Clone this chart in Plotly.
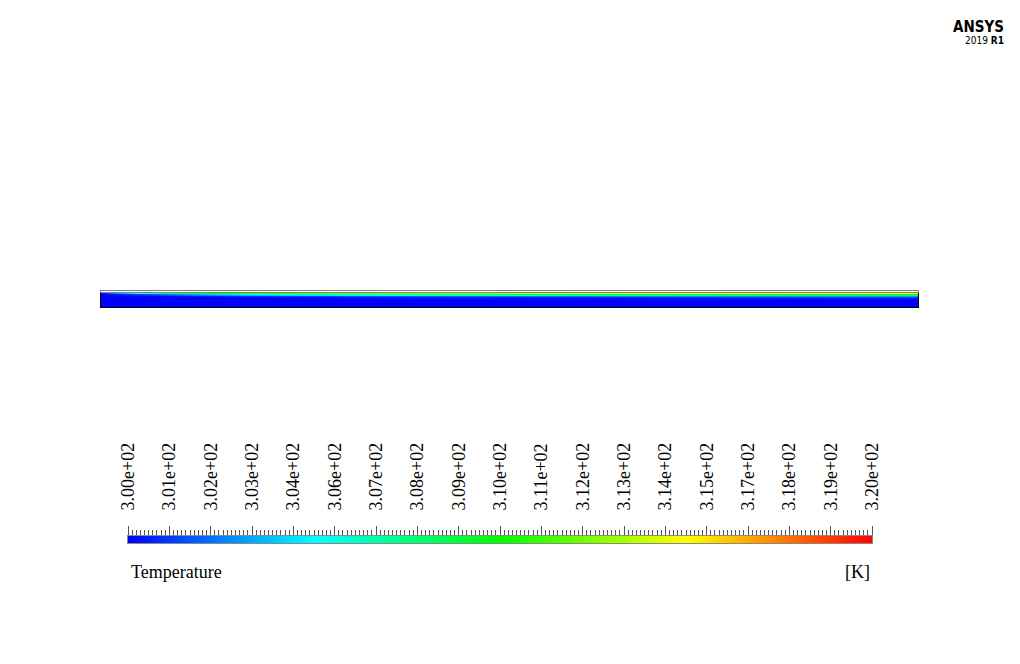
import plotly.graph_objects as go

# ---------------- data ----------------
# stations along the channel (fraction of length) and heights above the bottom (fraction of fluid height)
x_pos = [0.0, 0.02, 0.06, 0.12, 0.20, 0.35, 0.50, 0.70, 1.00]
y_pos = [0.0, 0.50, 0.607, 0.679, 0.750, 0.821, 0.893, 0.964]

# temperature [K] at each height (rows, bottom -> heated wall) for each station
T_bottom = [300.0, 300.0, 300.0, 300.0, 300.0, 300.0, 300.0, 300.0, 300.0]
T_mid    = [300.0, 300.0, 300.0, 300.0, 300.0, 300.0, 300.0, 300.0, 300.0]
T_row5   = [300.0, 300.0, 300.0, 300.0, 300.0, 300.1, 300.2, 300.3, 300.4]
T_row4   = [300.0, 300.0, 300.0, 300.0, 300.2, 300.6, 300.8, 301.0, 301.3]
T_row3   = [300.0, 300.0, 300.0, 300.3, 300.8, 301.6, 302.0, 302.5, 303.0]
T_row2   = [300.0, 300.0, 300.2, 301.0, 302.0, 303.5, 304.3, 305.0, 305.8]
T_row1   = [300.0, 300.5, 301.5, 303.5, 305.5, 307.0, 308.0, 309.0, 310.0]
T_row0   = [300.0, 303.0, 306.0, 309.0, 311.0, 312.5, 313.5, 314.3, 315.2]

T_field = [T_bottom, T_mid, T_row5, T_row4, T_row3, T_row2, T_row1, T_row0]

T_min, T_max = 300.0, 320.0
tick_labels = ["3.00e+02", "3.01e+02", "3.02e+02", "3.03e+02", "3.04e+02", "3.06e+02",
               "3.07e+02", "3.08e+02", "3.09e+02", "3.10e+02", "3.11e+02", "3.12e+02",
               "3.13e+02", "3.14e+02", "3.15e+02", "3.17e+02", "3.18e+02", "3.19e+02",
               "3.20e+02"]
n_t = len(tick_labels)
tick_values = [T_min + i * (T_max - T_min) / (n_t - 1) for i in range(n_t)]

# geometry (normalised)
L = 1.0   # channel length
H = 1.0   # fluid height

rainbow = [[0.0, "rgb(0,0,255)"], [0.25, "rgb(0,255,255)"], [0.5, "rgb(0,255,0)"],
           [0.75, "rgb(255,255,0)"], [1.0, "rgb(255,0,0)"]]

W, HGT = 1020, 664
OFF = 8  # page body margin
serif = "Liberation Serif, Times New Roman, serif"
cond = "DejaVu Sans Condensed, Liberation Sans Narrow, DejaVu Sans"


def px_x(p):
    return (p - OFF) / W


def px_y(p):
    return 1 - (p - OFF) / HGT


fig = go.Figure()

# temperature field in the fluid
fig.add_trace(go.Heatmap(
    x=[v * L for v in x_pos], y=[v * H for v in y_pos], z=T_field,
    colorscale=rainbow, zmin=T_min, zmax=T_max, zsmooth="best",
    showscale=False, hoverinfo="skip", xaxis="x", yaxis="y"))

# colour legend strip
fig.add_trace(go.Heatmap(
    x=tick_values, y=[0], z=[tick_values],
    colorscale=rainbow, zmin=T_min, zmax=T_max, zsmooth="best",
    showscale=False, hoverinfo="skip", xaxis="x2", yaxis="y2"))

# empty trace so that the wall subplot (outline only) is drawn
fig.add_trace(go.Scatter(x=[], y=[], mode="lines", hoverinfo="skip",
                         xaxis="x3", yaxis="y3"))

hidden = dict(showticklabels=False, ticks="", showgrid=False, zeroline=False,
              fixedrange=True, automargin=False)

fig.update_layout(
    template="none",
    width=W, height=HGT, autosize=False,
    margin=dict(l=0, r=0, t=0, b=0, pad=0),
    paper_bgcolor="white", plot_bgcolor="white",
    showlegend=False,
    # fluid region
    xaxis=dict(domain=[px_x(101), px_x(918)], range=[0, L], anchor="y",
               showline=True, linecolor="#000000", linewidth=1, mirror=False, **hidden),
    yaxis=dict(domain=[px_y(307), px_y(293)], range=[0, H], anchor="x",
               showline=True, linecolor="#000000", linewidth=1, mirror=True, **hidden),
    # solid wall on top
    xaxis3=dict(domain=[px_x(101), px_x(918)], range=[0, L], anchor="y3",
                showline=True, linecolor="#808080", linewidth=1, mirror=True, **hidden),
    yaxis3=dict(domain=[px_y(292), px_y(291)], range=[0, 1], anchor="x3",
                showline=True, linecolor="#808080", linewidth=1, mirror=True, **hidden),
    # colour legend
    xaxis2=dict(domain=[px_x(128), px_x(872)], range=[T_min, T_max], anchor="y2", side="top",
                tickmode="array", tickvals=tick_values, ticktext=tick_labels,
                tickangle=-90, ticks="outside", ticklen=9, tickwidth=1, tickcolor="#555555",
                minor=dict(tickmode="linear", tick0=T_min, dtick=(T_max - T_min) / 180,
                           ticks="outside", ticklen=5, tickwidth=1, tickcolor="#555555",
                           showgrid=False),
                ticklabelstandoff=12, automargin=False,
                tickfont=dict(family=serif, size=18, color="black"),
                showgrid=False, zeroline=False, showline=True, linecolor="#888888",
                linewidth=1, mirror=True, fixedrange=True),
    yaxis2=dict(domain=[px_y(543), px_y(536)], range=[-0.5, 0.5], anchor="x2",
                showline=True, linecolor="#888888", linewidth=1, mirror=True, **hidden),
    annotations=[
        dict(text="Temperature", x=px_x(129), y=px_y(572), xref="paper", yref="paper",
             xanchor="left", yanchor="middle", showarrow=False,
             font=dict(family=serif, size=18, color="black")),
        dict(text="[K]", x=px_x(872), y=px_y(572), xref="paper", yref="paper",
             xanchor="right", yanchor="middle", showarrow=False,
             font=dict(family=serif, size=18, color="black")),
        dict(text="<b>ANSYS</b>", x=px_x(1006), y=px_y(27), xref="paper", yref="paper",
             xanchor="right", yanchor="middle", showarrow=False,
             font=dict(family=cond, size=15, color="black")),
        dict(text="2019 <b>R1</b>", x=px_x(1006), y=px_y(40), xref="paper", yref="paper",
             xanchor="right", yanchor="middle", showarrow=False,
             font=dict(family=cond, size=10, color="black")),
    ],
)

fig.write_html("out.html")
